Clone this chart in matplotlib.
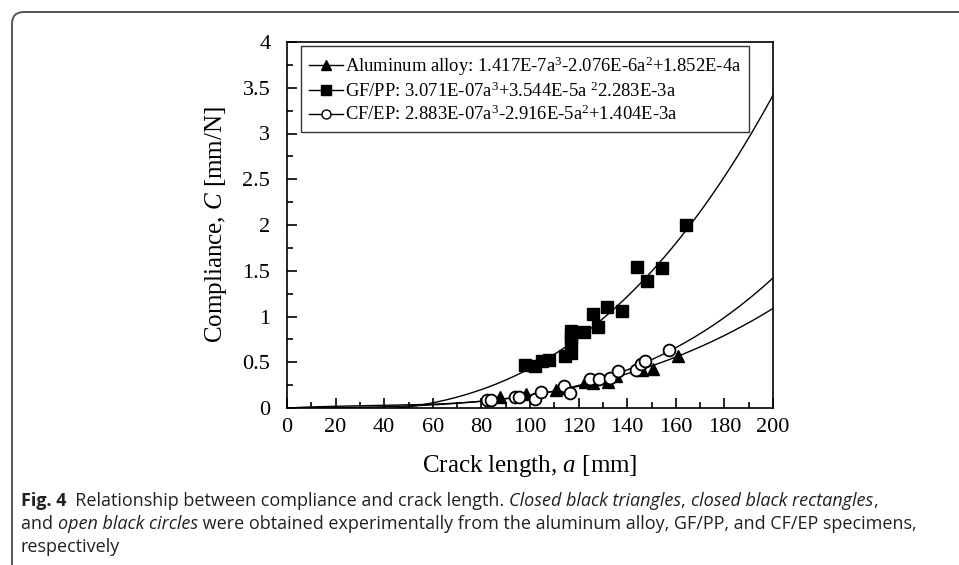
import matplotlib
matplotlib.use("Agg")
import matplotlib.pyplot as plt
from matplotlib.path import Path
from matplotlib.patches import PathPatch
import numpy as np

plt.rcParams['font.family'] = 'Liberation Serif'
plt.rcParams['mathtext.fontset'] = 'custom'
plt.rcParams['mathtext.rm'] = 'Liberation Serif'
plt.rcParams['mathtext.it'] = 'Liberation Serif:italic'

al_a = [87.7, 98.4, 110.9, 113.5, 122.6, 126.0, 132.2, 135.5, 146.0, 150.8, 160.8]
al_c = [0.12, 0.15, 0.20, 0.22, 0.28, 0.27, 0.28, 0.35, 0.41, 0.43, 0.57]

gf_a = [97.9, 102.0, 104.8, 108.0, 114.4, 117.0, 117.0, 117.0, 117.0, 122.2,
        126.0, 127.8, 131.6, 137.7, 144.2, 148.3, 154.5, 164.0]
gf_c = [0.47, 0.46, 0.51, 0.52, 0.57, 0.60, 0.72, 0.78, 0.84, 0.83,
        1.03, 0.88, 1.10, 1.06, 1.54, 1.39, 1.53, 2.00]

cf_a = [82.4, 83.8, 93.8, 95.4, 102.0, 104.4, 114.1, 116.6, 124.7, 128.6,
        132.8, 136.3, 143.8, 145.5, 147.2, 157.3]
cf_c = [0.087, 0.087, 0.12, 0.12, 0.10, 0.18, 0.24, 0.16, 0.32, 0.32,
        0.33, 0.40, 0.41, 0.48, 0.51, 0.63]

# fit coefficients printed in the legend (a^3, a^2, a)
al_fit = [1.417e-7, -2.076e-6, 1.852e-4]
gf_fit = [3.071e-7, 3.544e-5, -2.283e-3]
cf_fit = [2.883e-7, -2.916e-5, 1.404e-3]

al_label = 'Aluminum alloy: 1.417E-7a$^3$-2.076E-6a$^2$+1.852E-4a'
gf_label = 'GF/PP: 3.071E-07a$^3$+3.544E-5a $^2$2.283E-3a'
cf_label = 'CF/EP: 2.883E-07a$^3$-2.916E-5a$^2$+1.404E-3a'

W, H = 959, 565
fig = plt.figure(figsize=(W / 100, H / 100), dpi=100)
ax = fig.add_axes([287 / W, 1 - 408 / H, 486 / W, 366 / H])

a = np.linspace(0, 200, 400)
for coef in (al_fit, gf_fit, cf_fit):
    ax.plot(a, np.polyval(coef + [0.0], a), color='black', lw=1.0)

ax.plot(al_a, al_c, '^', color='black', ms=9, ls='none')
ax.plot(gf_a, gf_c, 's', color='black', ms=9, ls='none')
ax.plot(cf_a, cf_c, 'o', mfc='white', mec='black', mew=1.3, ms=8.5, ls='none')

# legend handles: line through marker
h1, = ax.plot([], [], '-^', color='black', ms=7, lw=1)
h2, = ax.plot([], [], '-s', color='black', ms=6.5, lw=1)
h3, = ax.plot([], [], '-o', color='black', mfc='white', ms=6.5, lw=1)
leg = ax.legend([h1, h2, h3], [al_label, gf_label, cf_label],
                loc='upper left', bbox_to_anchor=(0.029, 0.989), borderaxespad=0,
                fontsize=13.4, frameon=True, fancybox=False, edgecolor='black',
                handlelength=1.8, handletextpad=0.1, borderpad=0.45,
                labelspacing=0.2)
leg.get_frame().set_linewidth(1.0)

ax.set_xlim(0, 200)
ax.set_ylim(0, 4)
ax.set_xticks(np.arange(0, 201, 20))
ax.set_xticks(np.arange(0, 201, 10), minor=True)
ax.set_yticks(np.arange(0, 4.01, 0.5))
ax.set_yticks(np.arange(0, 4.01, 0.25), minor=True)
ax.set_yticklabels(['0', '0.5', '1', '1.5', '2', '2.5', '3', '3.5', '4'])
ax.tick_params(which='both', direction='in', top=False, right=False,
               labelsize=16, width=1.2)
ax.tick_params(which='major', length=7)
ax.tick_params(which='minor', length=4)
ax.tick_params(axis='x', pad=7)
ax.tick_params(axis='y', pad=12)
for s in ax.spines.values():
    s.set_linewidth(1.2)

ax.set_xlabel('Crack length, $\\mathit{a}$ [mm]', fontsize=18, labelpad=12)
ax.set_ylabel('Compliance, $\\mathit{C}$ [mm/N]', fontsize=18, labelpad=10)

# page frame
fx = lambda x: x / W
fy = lambda y: 1 - y / H
verts = [(fx(12), fy(565)), (fx(12), fy(24)), (fx(12), fy(12)), (fx(24), fy(12)), (fx(959), fy(12))]
codes = [Path.MOVETO, Path.LINETO, Path.CURVE3, Path.CURVE3, Path.LINETO]
fig.add_artist(PathPatch(Path(verts, codes), fill=False, edgecolor='#555555', lw=1.4,
                         transform=fig.transFigure))

# caption, drawn run by run
renderer = fig.canvas.get_renderer()
cap_lines = [
    [('Fig. 4', 'normal', 'bold'), ('  Relationship between compliance and crack length. ', 'normal', 'normal'),
     ('Closed black triangles', 'italic', 'normal'), (', ', 'normal', 'normal'),
     ('closed black rectangles', 'italic', 'normal'), (',', 'normal', 'normal')],
    [('and ', 'normal', 'normal'), ('open black circles', 'italic', 'normal'),
     (' were obtained experimentally from the aluminum alloy, GF/PP, and CF/EP specimens,', 'normal', 'normal')],
    [('respectively', 'normal', 'normal')],
]
baselines = [506, 529, 552]
for runs, yb in zip(cap_lines, baselines):
    x = fx(21)
    for txt, st, wt in runs:
        t = fig.text(x, fy(yb), txt, fontsize=13.0, family='Open Sans', style=st,
                     weight=wt, va='baseline', ha='left', color='#231f20')
        bb = t.get_window_extent(renderer)
        x += bb.width / fig.bbox.width

fig.savefig('out.png', dpi=100)
